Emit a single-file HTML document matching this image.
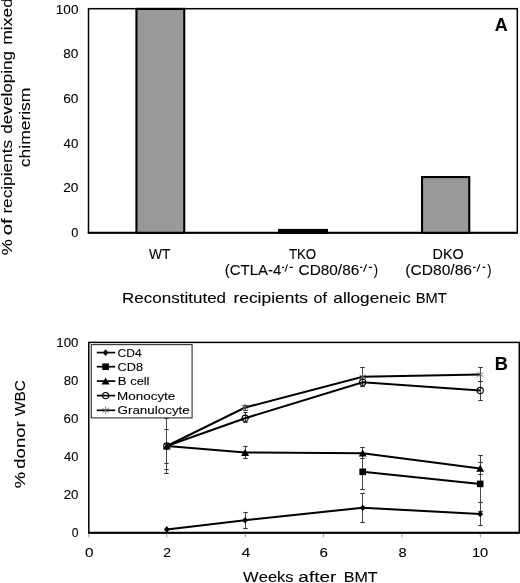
<!DOCTYPE html>
<html><head><meta charset="utf-8"><style>
html,body{margin:0;padding:0;background:#fff;}
svg{display:block;will-change:transform;}
text{font-family:"Liberation Sans", sans-serif;fill:#000;font-kerning:none;stroke:#000;stroke-width:0.1px;}
</style></head><body>
<svg width="520" height="583" viewBox="0 0 520 583">
<rect x="88.5" y="8.7" width="428.8" height="224.1" fill="none" stroke="#000" stroke-width="1.5"/>
<line x1="87.8" y1="232.8" x2="518" y2="232.8" stroke="#000" stroke-width="2"/>
<rect x="136.45" y="8.9" width="47.8" height="223.9" fill="#999" stroke="#000" stroke-width="2.1"/>
<rect x="279.05" y="229.95" width="47.9" height="2.85" fill="#000" stroke="#000" stroke-width="2.1"/>
<rect x="422.05" y="177.05" width="47.2" height="55.75" fill="#999" stroke="#000" stroke-width="2.1"/>
<text x="71.30" y="237.1" font-size="13.3" textLength="7.10" lengthAdjust="spacingAndGlyphs">0</text>
<text x="63.21" y="192.4" font-size="13.3" textLength="15.22" lengthAdjust="spacingAndGlyphs">20</text>
<text x="63.59" y="147.7" font-size="13.3" textLength="14.83" lengthAdjust="spacingAndGlyphs">40</text>
<text x="63.20" y="103.0" font-size="13.3" textLength="15.23" lengthAdjust="spacingAndGlyphs">60</text>
<text x="63.31" y="58.3" font-size="13.3" textLength="15.12" lengthAdjust="spacingAndGlyphs">80</text>
<text x="55.77" y="13.6" font-size="13.3" textLength="22.67" lengthAdjust="spacingAndGlyphs">100</text>
<text x="149.04" y="258.6" font-size="13.8" textLength="21.38" lengthAdjust="spacingAndGlyphs">WT</text>
<text x="288.90" y="258.5" font-size="13.8" textLength="27.33" lengthAdjust="spacingAndGlyphs">TKO</text>
<text x="432.52" y="258.5" font-size="13.8" textLength="31.17" lengthAdjust="spacingAndGlyphs">DKO</text>
<text x="224.87" y="275.3" font-size="13.8" textLength="56.36" lengthAdjust="spacingAndGlyphs">(CTLA-4</text>
<path d="M282.1,267.4 H284.1 M289.7,267.4 H292.8" stroke="#000" stroke-width="1.2" fill="none"/>
<path d="M285.0,271.7 L287.5,264.3" stroke="#000" stroke-width="1.05" fill="none"/>
<text x="298.52" y="275.3" font-size="13.8" textLength="60.76" lengthAdjust="spacingAndGlyphs">CD80/86</text>
<path d="M360.2,267.4 H362.3 M368.8,267.4 H372.1" stroke="#000" stroke-width="1.2" fill="none"/>
<path d="M363.6,271.7 L366.5,264.3" stroke="#000" stroke-width="1.05" fill="none"/>
<text x="373.82" y="275.3" font-size="13.8" textLength="4.27" lengthAdjust="spacingAndGlyphs">)</text>
<text x="405.23" y="275.3" font-size="13.8" textLength="66.86" lengthAdjust="spacingAndGlyphs">(CD80/86</text>
<path d="M473.1,267.4 H475.6 M482.7,267.4 H485.2" stroke="#000" stroke-width="1.2" fill="none"/>
<path d="M476.9,271.7 L479.9,264.3" stroke="#000" stroke-width="1.05" fill="none"/>
<text x="487.22" y="275.3" font-size="13.8" textLength="4.27" lengthAdjust="spacingAndGlyphs">)</text>
<text x="122.10" y="302.8" font-size="14.4" textLength="103.99" lengthAdjust="spacingAndGlyphs">Reconstituted</text>
<text x="233.44" y="302.8" font-size="14.4" textLength="74.48" lengthAdjust="spacingAndGlyphs">recipients</text>
<text x="313.52" y="302.8" font-size="14.4" textLength="13.45" lengthAdjust="spacingAndGlyphs">of</text>
<text x="333.37" y="302.8" font-size="14.4" textLength="77.38" lengthAdjust="spacingAndGlyphs">allogeneic</text>
<text x="415.79" y="302.8" font-size="14.4" textLength="31.04" lengthAdjust="spacingAndGlyphs">BMT</text>
<text transform="translate(11.9,254.7) rotate(-90)" x="-0.65" y="0" font-size="15.5" textLength="16.20" lengthAdjust="spacingAndGlyphs">%</text>
<text transform="translate(11.9,234.4) rotate(-90)" x="-0.86" y="0" font-size="15.5" textLength="17.03" lengthAdjust="spacingAndGlyphs">of</text>
<text transform="translate(11.9,212.5) rotate(-90)" x="-1.14" y="0" font-size="15.5" textLength="73.66" lengthAdjust="spacingAndGlyphs">recipients</text>
<text transform="translate(11.9,133.0) rotate(-90)" x="-0.72" y="0" font-size="15.5" textLength="82.82" lengthAdjust="spacingAndGlyphs">developing</text>
<text transform="translate(11.9,43.6) rotate(-90)" x="-1.16" y="0" font-size="15.5" textLength="46.69" lengthAdjust="spacingAndGlyphs">mixed</text>
<text transform="translate(30.2,166.4) rotate(-90)" x="-0.74" y="0" font-size="15.5" textLength="79.49" lengthAdjust="spacingAndGlyphs">chimerism</text>
<text x="494.65" y="30.8" font-size="17.5" font-weight="bold" stroke-width="0" textLength="12.92" lengthAdjust="spacingAndGlyphs">A</text>
<rect x="88.8" y="342.4" width="430.5" height="190.4" fill="none" stroke="#000" stroke-width="1.5"/>
<line x1="88" y1="532.8" x2="520" y2="532.8" stroke="#000" stroke-width="2"/>
<line x1="88.9" y1="533.8" x2="88.9" y2="537.4" stroke="#999" stroke-width="1"/>
<text x="85.00" y="556.7" font-size="13.3" textLength="8.49" lengthAdjust="spacingAndGlyphs">0</text>
<line x1="166.7" y1="533.8" x2="166.7" y2="537.4" stroke="#999" stroke-width="1"/>
<text x="163.29" y="556.7" font-size="13.3" textLength="7.81" lengthAdjust="spacingAndGlyphs">2</text>
<line x1="245.3" y1="533.8" x2="245.3" y2="537.4" stroke="#999" stroke-width="1"/>
<text x="241.58" y="556.7" font-size="13.3" textLength="8.94" lengthAdjust="spacingAndGlyphs">4</text>
<line x1="323.3" y1="533.8" x2="323.3" y2="537.4" stroke="#999" stroke-width="1"/>
<text x="319.43" y="556.7" font-size="13.3" textLength="8.44" lengthAdjust="spacingAndGlyphs">6</text>
<line x1="401.8" y1="533.8" x2="401.8" y2="537.4" stroke="#999" stroke-width="1"/>
<text x="398.41" y="556.7" font-size="13.3" textLength="8.18" lengthAdjust="spacingAndGlyphs">8</text>
<line x1="480.3" y1="533.8" x2="480.3" y2="537.4" stroke="#999" stroke-width="1"/>
<text x="471.93" y="556.7" font-size="13.3" textLength="16.40" lengthAdjust="spacingAndGlyphs">10</text>
<text x="71.63" y="537.1" font-size="13.3" textLength="6.75" lengthAdjust="spacingAndGlyphs">0</text>
<text x="63.63" y="499.1" font-size="13.3" textLength="14.79" lengthAdjust="spacingAndGlyphs">20</text>
<text x="64.00" y="461.1" font-size="13.3" textLength="14.40" lengthAdjust="spacingAndGlyphs">40</text>
<text x="63.62" y="423.1" font-size="13.3" textLength="14.80" lengthAdjust="spacingAndGlyphs">60</text>
<text x="63.73" y="385.1" font-size="13.3" textLength="14.69" lengthAdjust="spacingAndGlyphs">80</text>
<text x="56.29" y="347.1" font-size="13.3" textLength="22.13" lengthAdjust="spacingAndGlyphs">100</text>
<text transform="translate(25.2,487.5) rotate(-90)" x="-0.65" y="0" font-size="15" textLength="16.31" lengthAdjust="spacingAndGlyphs">%</text>
<text transform="translate(25.2,467.9) rotate(-90)" x="-0.78" y="0" font-size="15" textLength="47.28" lengthAdjust="spacingAndGlyphs">donor</text>
<text transform="translate(25.2,416.0) rotate(-90)" x="-0.07" y="0" font-size="15" textLength="35.85" lengthAdjust="spacingAndGlyphs">WBC</text>
<text x="243.13" y="581.8" font-size="14.4" textLength="50.47" lengthAdjust="spacingAndGlyphs">Weeks</text>
<text x="298.39" y="581.8" font-size="14.4" textLength="37.92" lengthAdjust="spacingAndGlyphs">after</text>
<text x="343.68" y="581.8" font-size="14.4" textLength="33.99" lengthAdjust="spacingAndGlyphs">BMT</text>
<text x="494.88" y="369.6" font-size="17.5" font-weight="bold" stroke-width="0" textLength="13.14" lengthAdjust="spacingAndGlyphs">B</text>
<line x1="166.5" y1="418.5" x2="166.5" y2="473.5" stroke="#4a4a4a" stroke-width="1"/>
<line x1="164.3" y1="418.5" x2="168.7" y2="418.5" stroke="#333" stroke-width="1.1"/>
<line x1="164.3" y1="473.5" x2="168.7" y2="473.5" stroke="#333" stroke-width="1.1"/>
<line x1="166.5" y1="429.5" x2="166.5" y2="463.5" stroke="#4a4a4a" stroke-width="1"/>
<line x1="164.3" y1="429.5" x2="168.7" y2="429.5" stroke="#333" stroke-width="1.1"/>
<line x1="164.3" y1="463.5" x2="168.7" y2="463.5" stroke="#333" stroke-width="1.1"/>
<line x1="166.5" y1="410.5" x2="166.5" y2="469.5" stroke="#4a4a4a" stroke-width="1"/>
<line x1="164.3" y1="410.5" x2="168.7" y2="410.5" stroke="#333" stroke-width="1.1"/>
<line x1="164.3" y1="469.5" x2="168.7" y2="469.5" stroke="#333" stroke-width="1.1"/>
<line x1="245.5" y1="405.5" x2="245.5" y2="410.5" stroke="#4a4a4a" stroke-width="1"/>
<line x1="243.3" y1="405.5" x2="247.7" y2="405.5" stroke="#333" stroke-width="1.1"/>
<line x1="243.3" y1="410.5" x2="247.7" y2="410.5" stroke="#333" stroke-width="1.1"/>
<line x1="245.5" y1="412.5" x2="245.5" y2="422.5" stroke="#4a4a4a" stroke-width="1"/>
<line x1="243.3" y1="412.5" x2="247.7" y2="412.5" stroke="#333" stroke-width="1.1"/>
<line x1="243.3" y1="422.5" x2="247.7" y2="422.5" stroke="#333" stroke-width="1.1"/>
<line x1="245.5" y1="446.5" x2="245.5" y2="458.5" stroke="#4a4a4a" stroke-width="1"/>
<line x1="243.3" y1="446.5" x2="247.7" y2="446.5" stroke="#333" stroke-width="1.1"/>
<line x1="243.3" y1="458.5" x2="247.7" y2="458.5" stroke="#333" stroke-width="1.1"/>
<line x1="245.5" y1="512.5" x2="245.5" y2="528.5" stroke="#4a4a4a" stroke-width="1"/>
<line x1="243.3" y1="512.5" x2="247.7" y2="512.5" stroke="#333" stroke-width="1.1"/>
<line x1="243.3" y1="528.5" x2="247.7" y2="528.5" stroke="#333" stroke-width="1.1"/>
<line x1="362.5" y1="367.5" x2="362.5" y2="386.5" stroke="#4a4a4a" stroke-width="1"/>
<line x1="360.3" y1="367.5" x2="364.7" y2="367.5" stroke="#333" stroke-width="1.1"/>
<line x1="360.3" y1="386.5" x2="364.7" y2="386.5" stroke="#333" stroke-width="1.1"/>
<line x1="362.5" y1="376.5" x2="362.5" y2="386.5" stroke="#4a4a4a" stroke-width="1"/>
<line x1="360.3" y1="376.5" x2="364.7" y2="376.5" stroke="#333" stroke-width="1.1"/>
<line x1="360.3" y1="386.5" x2="364.7" y2="386.5" stroke="#333" stroke-width="1.1"/>
<line x1="362.5" y1="447.5" x2="362.5" y2="458.5" stroke="#4a4a4a" stroke-width="1"/>
<line x1="360.3" y1="447.5" x2="364.7" y2="447.5" stroke="#333" stroke-width="1.1"/>
<line x1="360.3" y1="458.5" x2="364.7" y2="458.5" stroke="#333" stroke-width="1.1"/>
<line x1="362.5" y1="453.5" x2="362.5" y2="489.5" stroke="#4a4a4a" stroke-width="1"/>
<line x1="360.3" y1="453.5" x2="364.7" y2="453.5" stroke="#333" stroke-width="1.1"/>
<line x1="360.3" y1="489.5" x2="364.7" y2="489.5" stroke="#333" stroke-width="1.1"/>
<line x1="362.5" y1="493.5" x2="362.5" y2="522.5" stroke="#4a4a4a" stroke-width="1"/>
<line x1="360.3" y1="493.5" x2="364.7" y2="493.5" stroke="#333" stroke-width="1.1"/>
<line x1="360.3" y1="522.5" x2="364.7" y2="522.5" stroke="#333" stroke-width="1.1"/>
<line x1="480.5" y1="367.5" x2="480.5" y2="381.5" stroke="#4a4a4a" stroke-width="1"/>
<line x1="478.3" y1="367.5" x2="482.7" y2="367.5" stroke="#333" stroke-width="1.1"/>
<line x1="478.3" y1="381.5" x2="482.7" y2="381.5" stroke="#333" stroke-width="1.1"/>
<line x1="480.5" y1="381.5" x2="480.5" y2="400.5" stroke="#4a4a4a" stroke-width="1"/>
<line x1="478.3" y1="381.5" x2="482.7" y2="381.5" stroke="#333" stroke-width="1.1"/>
<line x1="478.3" y1="400.5" x2="482.7" y2="400.5" stroke="#333" stroke-width="1.1"/>
<line x1="480.5" y1="455.5" x2="480.5" y2="511.5" stroke="#4a4a4a" stroke-width="1"/>
<line x1="478.3" y1="455.5" x2="482.7" y2="455.5" stroke="#333" stroke-width="1.1"/>
<line x1="478.3" y1="511.5" x2="482.7" y2="511.5" stroke="#333" stroke-width="1.1"/>
<line x1="480.5" y1="462.5" x2="480.5" y2="474.5" stroke="#4a4a4a" stroke-width="1"/>
<line x1="478.3" y1="462.5" x2="482.7" y2="462.5" stroke="#333" stroke-width="1.1"/>
<line x1="478.3" y1="474.5" x2="482.7" y2="474.5" stroke="#333" stroke-width="1.1"/>
<line x1="480.5" y1="502.5" x2="480.5" y2="525.5" stroke="#4a4a4a" stroke-width="1"/>
<line x1="478.3" y1="502.5" x2="482.7" y2="502.5" stroke="#333" stroke-width="1.1"/>
<line x1="478.3" y1="525.5" x2="482.7" y2="525.5" stroke="#333" stroke-width="1.1"/>
<polyline points="166.8,446 245.1,407.5 362.7,376.8 480.2,374.6" fill="none" stroke="#000" stroke-width="2"/>
<polyline points="166.8,446 245.1,418.2 362.7,382.2 480.2,390.5" fill="none" stroke="#000" stroke-width="2"/>
<polyline points="166.8,446 245.1,452.5 362.7,453.2 480.2,468.4" fill="none" stroke="#000" stroke-width="2"/>
<polyline points="362.7,471.8 480.2,483.9" fill="none" stroke="#000" stroke-width="2"/>
<polyline points="166.8,529.4 245.1,520.2 362.7,507.7 480.2,514.0" fill="none" stroke="#000" stroke-width="2"/>
<path d="M166.8,442.2 L166.8,449.8 M163.5,443.8 L170.10000000000002,448.2 M163.5,448.2 L170.10000000000002,443.8" stroke="#666" stroke-width="0.8" fill="none"/>
<path d="M245.1,403.7 L245.1,411.3 M241.79999999999998,405.3 L248.4,409.7 M241.79999999999998,409.7 L248.4,405.3" stroke="#666" stroke-width="0.8" fill="none"/>
<path d="M362.7,373.0 L362.7,380.6 M359.4,374.6 L366.0,379.0 M359.4,379.0 L366.0,374.6" stroke="#666" stroke-width="0.8" fill="none"/>
<path d="M480.2,370.8 L480.2,378.40000000000003 M476.9,372.40000000000003 L483.5,376.8 M476.9,376.8 L483.5,372.40000000000003" stroke="#666" stroke-width="0.8" fill="none"/>
<circle cx="166.8" cy="446" r="3.1" fill="none" stroke="#000" stroke-width="1.1"/>
<circle cx="245.1" cy="418.2" r="3.1" fill="none" stroke="#000" stroke-width="1.1"/>
<circle cx="362.7" cy="382.2" r="3.1" fill="none" stroke="#000" stroke-width="1.1"/>
<circle cx="480.2" cy="390.5" r="3.1" fill="none" stroke="#000" stroke-width="1.1"/>
<path d="M166.8,442.4 L170.8,449.4 L162.8,449.4 Z" fill="#000"/>
<path d="M245.1,448.9 L249.1,455.9 L241.1,455.9 Z" fill="#000"/>
<path d="M362.7,449.59999999999997 L366.7,456.59999999999997 L358.7,456.59999999999997 Z" fill="#000"/>
<path d="M480.2,464.79999999999995 L484.2,471.79999999999995 L476.2,471.79999999999995 Z" fill="#000"/>
<rect x="359.4" y="468.5" width="6.6" height="6.6" fill="#000"/>
<rect x="476.9" y="480.59999999999997" width="6.6" height="6.6" fill="#000"/>
<path d="M166.8,526.1 L169.70000000000002,529.4 L166.8,532.6999999999999 L163.9,529.4 Z" fill="#000"/>
<path d="M245.1,516.9000000000001 L248.0,520.2 L245.1,523.5 L242.2,520.2 Z" fill="#000"/>
<path d="M362.7,504.4 L365.59999999999997,507.7 L362.7,511.0 L359.8,507.7 Z" fill="#000"/>
<path d="M480.2,510.7 L483.09999999999997,514.0 L480.2,517.3 L477.3,514.0 Z" fill="#000"/>
<rect x="91.3" y="344.6" width="100.8" height="73.3" fill="#fff" stroke="#383838" stroke-width="1.15"/>
<line x1="96.8" y1="352.6" x2="115.2" y2="352.6" stroke="#000" stroke-width="1.7"/>
<path d="M105.6,349.3 L108.5,352.6 L105.6,355.90000000000003 L102.69999999999999,352.6 Z" fill="#000"/>
<text x="117.59" y="357.0" font-size="11.7" textLength="24.17" lengthAdjust="spacingAndGlyphs">CD4</text>
<line x1="96.8" y1="366.7" x2="115.2" y2="366.7" stroke="#000" stroke-width="1.7"/>
<rect x="102.3" y="363.4" width="6.6" height="6.6" fill="#000"/>
<text x="117.55" y="371.3" font-size="11.7" textLength="25.50" lengthAdjust="spacingAndGlyphs">CD8</text>
<line x1="96.8" y1="381.1" x2="115.2" y2="381.1" stroke="#000" stroke-width="1.7"/>
<path d="M105.6,377.5 L109.6,384.5 L101.6,384.5 Z" fill="#000"/>
<text x="117.72" y="385.4" font-size="11.7" textLength="8.77" lengthAdjust="spacingAndGlyphs">B</text>
<text x="130.26" y="385.4" font-size="11.7" textLength="19.20" lengthAdjust="spacingAndGlyphs">cell</text>
<line x1="96.8" y1="395.6" x2="115.2" y2="395.6" stroke="#000" stroke-width="1.7"/>
<circle cx="105.6" cy="395.6" r="3.1" fill="none" stroke="#000" stroke-width="1.1"/>
<text x="117.10" y="399.9" font-size="11.7" textLength="58.20" lengthAdjust="spacingAndGlyphs">Monocyte</text>
<line x1="96.8" y1="410.3" x2="115.2" y2="410.3" stroke="#000" stroke-width="1.7"/>
<path d="M105.6,406.5 L105.6,414.1 M102.3,408.1 L108.89999999999999,412.5 M102.3,412.5 L108.89999999999999,408.1" stroke="#666" stroke-width="0.8" fill="none"/>
<text x="117.53" y="414.3" font-size="11.7" textLength="72.27" lengthAdjust="spacingAndGlyphs">Granulocyte</text>
</svg>
</body></html>
